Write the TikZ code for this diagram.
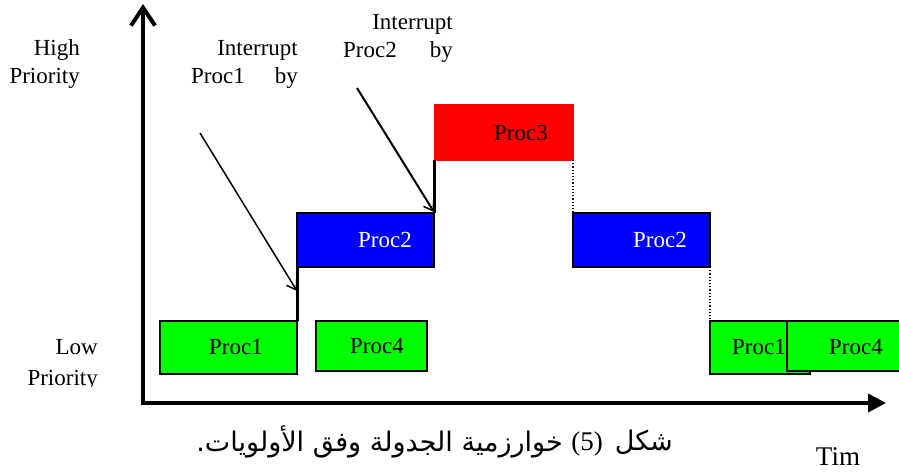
\documentclass[tikz,border=0pt]{standalone}
\usepackage{fontspec}
\setmainfont{Liberation Serif}
\newfontfamily\arabicfont[Script=Arabic]{DejaVu Sans}
\TeXXeTstate=1
\usetikzlibrary{arrows.meta}
\definecolor{pgreen}{RGB}{0,255,0}
\definecolor{pblue}{RGB}{0,0,255}
\definecolor{pred}{RGB}{255,0,0}
\tikzset{
  procbox/.style={draw=black, line width=2pt, inner sep=0pt, outer sep=0pt},
  lbl/.style={inner sep=0pt, font=\fontsize{23}{28}\selectfont},
  side/.style={inner sep=0pt, align=right, font=\fontsize{23}{28}\selectfont},
  captxt/.style={inner sep=0pt, font=\fontsize{27}{30}\selectfont\arabicfont},
  axis/.style={line width=4pt},
  joinline/.style={line width=3pt},
  dotline/.style={line width=1.2pt, dotted},
  intarrow/.style={line width=1.5pt, -{Straight Barb[length=9pt,width=12pt,line width=1.5pt]}}
}
\begin{document}
\begin{tikzpicture}[x=1pt,y=-1pt]
\useasboundingbox (0,0) rectangle (899,474);
% axes
\coordinate (ytop) at (143,4);
\coordinate (orig) at (143,403);
\coordinate (xend) at (886,403);
\draw[axis, {Straight Barb[length=18pt,width=24pt,line width=4pt]}-{Triangle[length=18pt,width=18pt]}] (ytop) -- (orig) -- (xend);
% boxes
\node[procbox, fill=pgreen, minimum width=137pt, minimum height=53pt] (p1a) at (228.5,347.5) {};
\node[procbox, fill=pgreen, minimum width=111pt, minimum height=50pt] (p4a) at (371.5,346) {};
\node[procbox, fill=pblue, minimum width=137pt, minimum height=54pt] (p2a) at (365.5,240) {};
\node[procbox, draw=pred, line width=0.5pt, fill=pred, minimum width=139pt, minimum height=56pt] (p3) at (503.5,132) {};
\node[procbox, fill=pblue, minimum width=137pt, minimum height=54pt] (p2b) at (641.5,240) {};
\node[procbox, fill=pgreen, minimum width=100pt, minimum height=53pt] (p1b) at (760,347.5) {};
\node[procbox, fill=pgreen, minimum width=120pt, minimum height=50pt] (p4b) at (847,346) {};
% box texts
\node[lbl] (t1a) at (236,347) {Proc1};
\node[lbl] (t4a) at (377,346) {Proc4};
\node[lbl, text=white] (t2a) at (385,240) {Proc2};
\node[lbl] (t3) at (521,133) {Proc3};
\node[lbl, text=white] (t2b) at (660,240) {Proc2};
\node[lbl] (t1b) at (759,347) {Proc1};
\node[lbl] (t4b) at (856,347) {Proc4};
% connectors
\draw[joinline] (p2a.south west) -- (p1a.north east);
\draw[joinline] (p3.south west) -- (p2a.north east);
\draw[dotline] (p3.south east) -- (p2b.north west);
\draw[dotline] (p2b.south east) -- (p1b.north west);
% interrupt arrows
\coordinate (a1s) at (200,133);
\coordinate (a1e) at (297,291);
\coordinate (a2s) at (357,88);
\coordinate (a2e) at (434,212);
\draw[intarrow] (a1s) -- (a1e);
\draw[intarrow, line width=2pt] (a2s) -- (a2e);
% side texts
\node[side, anchor=east] (hp) at (80,64) {High\\Priority};
\node[side, anchor=east] (i1) at (298,64) {Interrupt\\Proc1\hspace{30pt}by};
\node[side, anchor=east] (i2) at (453,38) {Interrupt\\Proc2\hspace{33pt}by};
\begin{scope}
\clip (0,320) rectangle (130,386);
\node[side, anchor=base east, align=right, font=\fontsize{23}{31}\selectfont] (lp) at (98,385) {Low\\Priority};
\end{scope}
\node[inner sep=0pt, font=\fontsize{27}{30}\selectfont] (tim) at (838,457) {Tim};
% caption
\node[captxt, anchor=east] (capa) at (673,442) {\beginR شكل\endR};
\node[inner sep=0pt, font=\fontsize{27}{30}\selectfont] (capb) at (587,444) {(5)};
\node[captxt, anchor=east] (capc) at (563,442) {\beginR خوارزمية الجدولة وفق الأولويات.\endR};
\end{tikzpicture}
\end{document}
